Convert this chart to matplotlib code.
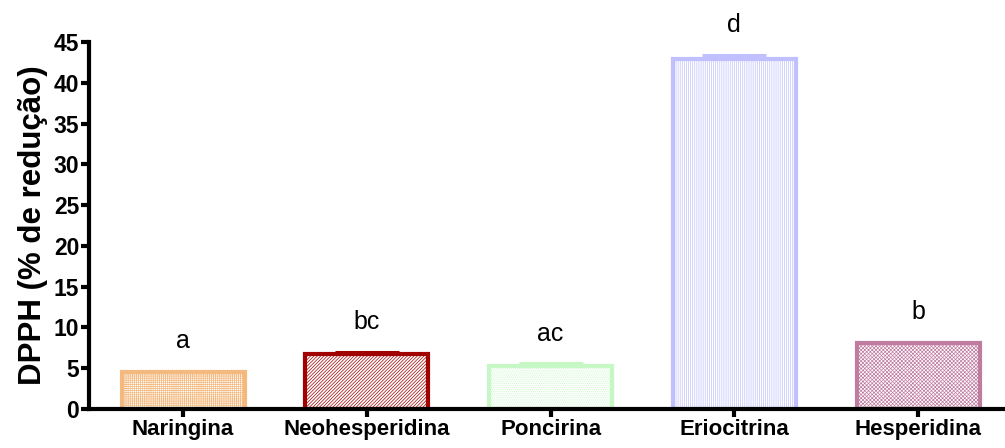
import matplotlib
matplotlib.use('Agg')
import matplotlib.pyplot as plt

compounds = ['Naringina', 'Neohesperidina', 'Poncirina', 'Eriocitrina', 'Hesperidina']
dpph = [4.5, 6.7, 5.3, 42.9, 8.1]
sem = [0.2, 0.3, 0.3, 0.55, 0.1]
letters = ['a', 'bc', 'ac', 'd', 'b']

edge_colors = ['#F4B97E', '#A00000', '#C6F8C6', '#C0C0FF', '#C07CA0']
hatches = ['++++++++', '//////////', '........', '||||||||', 'xxxxxxxxx']


def main():
  plt.rcParams['font.family'] = ['Liberation Sans', 'DejaVu Sans']
  plt.rcParams['hatch.linewidth'] = 0.5

  fig = plt.figure(figsize=(10.05, 4.48), dpi=100)
  ax = fig.add_axes([0.0886, 0.087, 0.9114, 0.819])

  x = list(range(len(compounds)))
  for i in x:
    ax.bar(i, dpph[i], width=0.67, facecolor='white', edgecolor=edge_colors[i],
           hatch=hatches[i], linewidth=3, zorder=2)
    ax.errorbar(i, dpph[i], yerr=[[0], [sem[i]]], fmt='none', ecolor=edge_colors[i],
                elinewidth=2.2, capsize=23, capthick=2.2, zorder=3)
    ax.text(i, dpph[i] + sem[i] + 2.8, letters[i], ha='center', va='baseline',
            fontsize=18)

  ax.set_xlim(-0.512, 4.473)
  ax.set_ylim(0, 45)
  ax.set_yticks(range(0, 46, 5))
  ax.set_xticks(x)
  ax.set_xticklabels(compounds, fontsize=16, fontweight='bold')
  for lab in ax.get_yticklabels():
    lab.set_fontsize(16.5)
    lab.set_fontweight('bold')

  ax.set_ylabel('DPPH (% de redução)', fontsize=22.5, fontweight='bold', labelpad=4)

  for s in ['top', 'right']:
    ax.spines[s].set_visible(False)
  for s in ['left', 'bottom']:
    ax.spines[s].set_linewidth(3)
  ax.tick_params(axis='both', width=3, length=6, pad=1)

  fig.savefig('out.png', dpi=100)


if __name__ == "__main__":
  main()
